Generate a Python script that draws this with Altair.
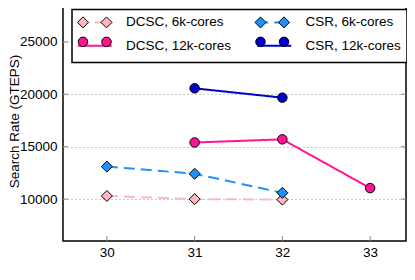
import altair as alt
import pandas as pd

# ---- data ----
scales = [30, 31, 32, 33]
series_names = ["DCSC, 6k-cores", "DCSC, 12k-cores", "CSR, 6k-cores", "CSR, 12k-cores"]
series_colors = ["#FFB6C1", "#FF1493", "#1E90FF", "#0000CD"]
dcsc_6k = [10300, 10000, 9950, None]
dcsc_12k = [None, 15400, 15700, 11050]
csr_6k = [13100, 12420, 10600, None]
csr_12k = [None, 20570, 19680, None]
y_ticks = [10000, 15000, 20000, 25000]

W, H = 343, 241
FONT = "Liberation Sans"

rows = []
for name, vals in [("DCSC, 6k-cores", dcsc_6k), ("DCSC, 12k-cores", dcsc_12k),
                   ("CSR, 6k-cores", csr_6k), ("CSR, 12k-cores", csr_12k)]:
    for s, v in zip(scales, vals):
        if v is not None:
            rows.append({"scale": s, "rate": v, "series": name, "series_l": name})
df = pd.DataFrame(rows)

xscale = alt.Scale(domain=[29.5, 29.5 + W / 87.75], nice=False, zero=False)
yscale = alt.Scale(domain=[6000, 29000], nice=False, zero=False)

xaxis = alt.Axis(values=scales, format="d", title="Scale", grid=False, domain=False,
                 ticks=False, tickSize=0, labelPadding=4, titleY=276,
                 titleBaseline="alphabetic")
yaxis = alt.Axis(values=y_ticks, format="d", title="Search Rate (GTEPS)", grid=True,
                 gridDash=[1, 3], gridColor="#8f8f8f", gridWidth=1, domain=False,
                 ticks=False, tickSize=0, labelPadding=6, titleX=-45, titleY=121,
                 titleAngle=270, titleBaseline="alphabetic", titleAlign="center")

# legend symbol paths (pixel units, symbolSize=4 -> scale 1)
EXT = "M-18,-6M18,6"
line_path = EXT + "M-17,0L17,0"


def diamond(cx, h):
    return f"M{cx-h},0L{cx},{-h}L{cx+h},0L{cx},{h}Z"


def circle(cx, r):
    k = round(0.5523 * r, 3)
    return (f"M{cx-r},0C{cx-r},{-k} {cx-k},{-r} {cx},{-r}"
            f"C{cx+k},{-r} {cx+r},{-k} {cx+r},0"
            f"C{cx+r},{k} {cx+k},{r} {cx},{r}"
            f"C{cx-k},{r} {cx-r},{k} {cx-r},0Z")


diamond_pair = EXT + diamond(-11.75, 5.5) + diamond(11.75, 5.5)
circle_pair = EXT + circle(-11.75, 4.75) + circle(11.75, 4.75)

legend_common = dict(orient="none", legendX=9, legendY=9.5, columns=2, title=None,
                     labelFont=FONT, labelFontSize=13.5, labelColor="black",
                     symbolSize=4, symbolOffset=10, labelOffset=24.5,
                     rowPadding=2.6, columnPadding=19.5, padding=6, labelLimit=400)

legend_lines = alt.Legend(
    **legend_common, symbolType=line_path, symbolStrokeWidth=2,
    fillColor="white", strokeColor="black", cornerRadius=0,
)
legend_points = alt.Legend(
    **legend_common, labelOpacity=0,
    symbolType={"expr": f"indexof(datum.value, '6k') >= 0 ? '{diamond_pair}' : '{circle_pair}'"},
    symbolStrokeColor="black", symbolStrokeWidth=1, symbolOpacity=1,
)

base = alt.Chart(df).encode(
    x=alt.X("scale:Q", scale=xscale, axis=xaxis),
    y=alt.Y("rate:Q", scale=yscale, axis=yaxis),
)

lines = base.mark_line(strokeWidth=2).encode(
    color=alt.Color("series_l:N", scale=alt.Scale(domain=series_names, range=series_colors),
                    legend=legend_lines),
    strokeDash=alt.StrokeDash("series_l:N",
                              scale=alt.Scale(domain=series_names,
                                              range=[[11, 6], [1, 0], [11, 6], [1, 0]]),
                              legend=legend_lines),
    detail="series_l:N",
)

fill_enc = alt.Fill("series:N", sort=series_names, scale=alt.Scale(range=series_colors),
                    legend=legend_points)

diamonds = base.mark_point(shape="diamond", size=121, filled=True, opacity=1,
                           stroke="black", strokeWidth=1).encode(fill=fill_enc).transform_filter(
    alt.FieldOneOfPredicate(field="series", oneOf=["DCSC, 6k-cores", "CSR, 6k-cores"]))
circles = base.mark_point(shape="circle", size=90, filled=True, opacity=1,
                          stroke="black", strokeWidth=1).encode(fill=fill_enc).transform_filter(
    alt.FieldOneOfPredicate(field="series", oneOf=["DCSC, 12k-cores", "CSR, 12k-cores"]))

xt = pd.DataFrame({"scale": scales})
yt = pd.DataFrame({"rate": y_ticks})
x_ticks = alt.Chart(xt).mark_rule(color="#888888", strokeWidth=1).encode(
    x=alt.X("scale:Q", scale=xscale, axis=xaxis), y=alt.value(H - 5), y2=alt.value(H))
y_ticks_l = alt.Chart(yt).mark_rule(color="#888888", strokeWidth=1).encode(
    y=alt.Y("rate:Q", scale=yscale, axis=yaxis), x=alt.value(0), x2=alt.value(5))
y_ticks_r = alt.Chart(yt).mark_rule(color="#888888", strokeWidth=1).encode(
    y=alt.Y("rate:Q", scale=yscale, axis=yaxis), x=alt.value(W - 5), x2=alt.value(W))

chart = alt.layer(x_ticks, y_ticks_l, y_ticks_r, lines, diamonds, circles).properties(
    width=W, height=H,
    autosize=alt.AutoSizeParams(type="none"),
    padding={"left": 55, "top": -8, "right": 1, "bottom": 40},
).configure_view(stroke="black", strokeWidth=1.5).configure_axis(
    labelFont=FONT, labelFontSize=13.5, labelColor="black",
    titleFont=FONT, titleFontSize=13.5, titleColor="black", titleFontWeight="normal",
).configure_legend(strokeWidth=1.5)

chart.save("out.html", embed_options={"renderer": "svg", "actions": False})
